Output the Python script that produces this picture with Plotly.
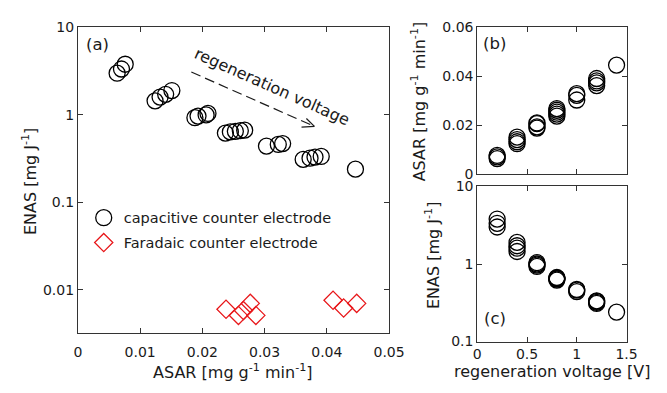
import plotly.graph_objects as go

# ---- data ----
cap_voltage = [0.2, 0.2, 0.2, 0.4, 0.4, 0.4, 0.4, 0.6, 0.6, 0.6, 0.6,
               0.8, 0.8, 0.8, 0.8, 0.8, 1.0, 1.0, 1.0, 1.2, 1.2, 1.2, 1.2, 1.4]
cap_asar = [0.0063, 0.0070, 0.0076, 0.0124, 0.0132, 0.0141, 0.0151,
            0.0188, 0.0193, 0.0206, 0.0209,
            0.0237, 0.0245, 0.0253, 0.0261, 0.0268,
            0.0303, 0.0322, 0.0329,
            0.0362, 0.0373, 0.0381, 0.0391, 0.0446]
cap_enas = [3.0, 3.35, 3.8, 1.45, 1.6, 1.72, 1.9,
            0.93, 0.97, 1.0, 1.04,
            0.62, 0.64, 0.65, 0.66, 0.67,
            0.44, 0.46, 0.47,
            0.31, 0.32, 0.33, 0.335, 0.24]
far_asar = [0.0238, 0.0258, 0.0266, 0.0277, 0.0286, 0.0410, 0.0427, 0.0448]
far_enas = [0.0060, 0.0051, 0.0058, 0.0070, 0.0051, 0.0076, 0.0062, 0.0070]

xa_ticks = [0, 0.01, 0.02, 0.03, 0.04, 0.05]
xa_text = ["0", "0.01", "0.02", "0.03", "0.04", "0.05"]
ya_ticks = [0.01, 0.1, 1, 10]
ya_text = ["0.01", "0.1", "1", "10"]
yb_ticks = [0, 0.02, 0.04, 0.06]
yb_text = ["0", "0.02", "0.04", "0.06"]
xc_ticks = [0, 0.5, 1, 1.5]
xc_text = ["0", "0.5", "1", "1.5"]
yc_ticks = [0.1, 1, 10]
yc_text = ["0.1", "1", "10"]

# the page body keeps its default 8px margin, so the figure is 16px smaller
OFF = 8
W, H = 667 - 2 * OFF, 393 - 2 * OFF
FONT = "DejaVu Sans"
INK = "#1a1a1a"

def px(x):
    return (x - OFF) / W

def py(y):
    return 1 - (y - OFF) / H

circ = dict(symbol="circle-open", size=16, color="black", line=dict(width=1.3, color="black"))
diam = dict(symbol="diamond-open", size=14, color="#e8191c", line=dict(width=1.3, color="#e8191c"))

fig = go.Figure()
fig.add_trace(go.Scatter(x=cap_asar, y=cap_enas, mode="markers", marker=circ,
                         name="capacitive counter electrode", legendgroup="cap",
                         xaxis="x", yaxis="y"))
fig.add_trace(go.Scatter(x=far_asar, y=far_enas, mode="markers", marker=diam,
                         name="Faradaic counter electrode", legendgroup="far",
                         xaxis="x", yaxis="y"))
fig.add_trace(go.Scatter(x=cap_voltage, y=cap_asar, mode="markers", marker=circ,
                         showlegend=False, xaxis="x2", yaxis="y2"))
fig.add_trace(go.Scatter(x=cap_voltage, y=cap_enas, mode="markers", marker=circ,
                         showlegend=False, xaxis="x3", yaxis="y3"))

axis_common = dict(showline=True, linecolor="#333333", linewidth=1, mirror="ticks",
                   ticks="inside", ticklen=5, tickcolor="#333333", showgrid=False,
                   zeroline=False, tickfont=dict(family=FONT, size=14, color=INK))

fig.update_layout(
    width=W, height=H, margin=dict(l=0, r=0, t=0, b=0),
    paper_bgcolor="white", plot_bgcolor="white",
    font=dict(family=FONT, size=14, color=INK),
    xaxis=dict(domain=[px(76), px(397)], range=[0, 0.05], tickvals=xa_ticks,
               ticktext=xa_text, anchor="y", ticklabelstandoff=6, **axis_common),
    yaxis=dict(domain=[py(339), py(20)], type="log", range=[-2.493, 1],
               tickvals=ya_ticks, ticktext=ya_text, anchor="x", **axis_common),
    xaxis2=dict(domain=[px(488), px(642)], range=[0, 1.5], tickvals=xc_ticks,
                showticklabels=False, anchor="y2", **axis_common),
    yaxis2=dict(domain=[py(173), py(20)], range=[0, 0.06], tickvals=yb_ticks,
                ticktext=yb_text, anchor="x2", **axis_common),
    xaxis3=dict(domain=[px(488), px(642)], range=[0, 1.5], tickvals=xc_ticks,
                ticktext=xc_text, anchor="y3", ticklabelstandoff=0, **axis_common),
    yaxis3=dict(domain=[py(348), py(186)], type="log", range=[-1, 1],
                tickvals=yc_ticks, ticktext=yc_text, anchor="x3", **axis_common),
    legend=dict(x=px(82), y=py(202), xanchor="left", yanchor="top",
                bgcolor="rgba(0,0,0,0)", font=dict(family=FONT, size=14.5, color=INK),
                tracegroupgap=3),
    showlegend=True,
)

ann = []
def text(x, y, s, size=16, angle=0):
    ann.append(dict(x=px(x), y=py(y), xref="paper", yref="paper", text=s,
                    showarrow=False, textangle=angle, xanchor="center", yanchor="middle",
                    font=dict(family=FONT, size=size, color=INK)))

text(236, 379, "ASAR [mg g<sup>-1</sup> min<sup>-1</sup>]")
text(26, 181, "ENAS [mg J<sup>-1</sup>]", angle=-90)
text(427, 97, "ASAR [mg g<sup>-1</sup> min<sup>-1</sup>]", angle=-90)
text(442, 258, "ENAS [mg J<sup>-1</sup>]", angle=-90)
text(565, 379.5, "regeneration voltage [V]")
text(96, 38, "(a)", size=16.5)
text(506, 37, "(b)", size=16.5)
text(506, 324, "(c)", size=16.5)
text(276, 82, "regeneration voltage", size=16, angle=24)
fig.update_layout(annotations=ann)

# dashed arrow (decoration, in paper coordinates)
shp = [
    dict(type="line", xref="paper", yref="paper", x0=px(193), y0=py(66.5), x1=px(320), y1=py(123.3),
         line=dict(color=INK, width=1.2, dash="10px,5px")),
    dict(type="line", xref="paper", yref="paper", x0=px(306.7), y0=py(124), x1=px(320), y1=py(123.3),
         line=dict(color=INK, width=1.2)),
    dict(type="line", xref="paper", yref="paper", x0=px(311.7), y0=py(115), x1=px(320), y1=py(123.3),
         line=dict(color=INK, width=1.2)),
]
fig.update_layout(shapes=shp)

fig.write_html("out.html", config={"displayModeBar": False})
